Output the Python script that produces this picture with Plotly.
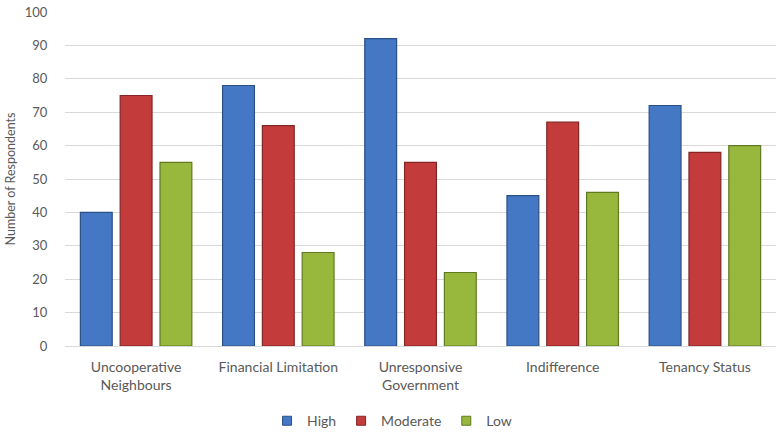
import plotly.graph_objects as go

categories = ["Uncooperative<br>Neighbours", "Financial Limitation", "Unresponsive<br>Government",
              "Indifference", "Tenancy Status"]
high = [40, 78, 92, 45, 72]
moderate = [75, 66, 55, 67, 58]
low = [55, 28, 22, 46, 60]
y_ticks = list(range(0, 101, 10))

series = [
    ("High", high, "#4578C4", "#2A4F86"),
    ("Moderate", moderate, "#C43B3B", "#832525"),
    ("Low", low, "#97B83C", "#5F7A22"),
]

fig = go.Figure()
for name, vals, fill, edge in series:
    fig.add_trace(go.Bar(
        name=name, x=categories, y=vals, showlegend=False, legendgroup=name,
        marker=dict(color=fill, line=dict(color=edge, width=1.2)),
    ))
# small square swatches for the legend
for name, vals, fill, edge in series:
    fig.add_trace(go.Scatter(
        name=name, x=[None], y=[None], mode="markers", legendgroup=name,
        marker=dict(symbol="square", size=9, color=fill, line=dict(color=edge, width=1)),
    ))

font_family = "Lato, Open Sans, sans-serif"
fig.update_layout(
    width=776, height=432,
    margin=dict(l=65, r=0, t=12, b=86, autoexpand=False),
    paper_bgcolor="white", plot_bgcolor="white",
    barmode="group", bargap=0.16, bargroupgap=0.2,
    font=dict(family=font_family, size=14, color="#595959"),
    showlegend=True,
    legend=dict(orientation="h", x=0.46, xanchor="center", y=-0.225, yanchor="middle",
                font=dict(size=14, color="#595959"), itemwidth=30,
                traceorder="normal", tracegroupgap=0),
    xaxis=dict(showgrid=False, showline=True, linecolor="#D9D9D9", linewidth=1,
               ticks="outside", ticklen=8, tickcolor="rgba(0,0,0,0)",
               tickfont=dict(size=14, color="#595959")),
    yaxis=dict(range=[0, 100], tickvals=y_ticks, showgrid=True, gridcolor="#D9D9D9",
               gridwidth=1, zeroline=False, ticks="outside", ticklen=14,
               tickcolor="rgba(0,0,0,0)",
               tickfont=dict(size=13, color="#595959"),
               title=dict(text="Number of Respondents", font=dict(size=12.5, color="#595959"),
                          standoff=6)),
)

fig.write_html("out.html")
